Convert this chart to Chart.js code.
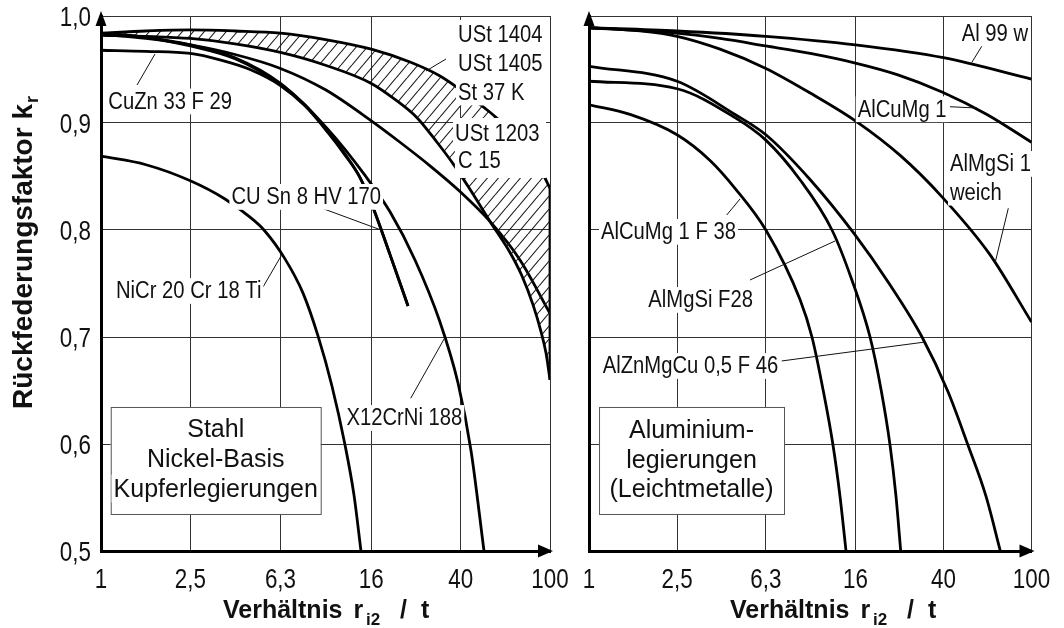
<!DOCTYPE html>
<html>
<head>
<meta charset="utf-8">
<script src="https://cdn.jsdelivr.net/npm/chart.js@4.4.1/dist/chart.umd.min.js"></script>
<style>
  html, body { margin: 0; padding: 0; background: #fff; }
  #wrap { position: relative; width: 1064px; height: 628px; }
  #left { position: absolute; left: 0; top: 0; }
  #right { position: absolute; left: 570px; top: 0; }
</style>
</head>
<body>
<div id="wrap">
  <canvas id="left" width="570" height="628"></canvas>
  <canvas id="right" width="494" height="628"></canvas>
</div>
<script>
// Achsen
const xTicks = [1, 2.5, 6.3, 16, 40, 100];
const yTicks = [0.5, 0.6, 0.7, 0.8, 0.9, 1.0];

// Stahl / Nickel-Basis / Kupferlegierungen
const ust1404X = [1, 1.586, 2.5, 3.954, 6.3, 10, 16, 23.79, 32.36, 41.82, 54.04, 69.84, 81.45, 92.13, 100];
const ust1404Y = [0.984, 0.986, 0.987, 0.986, 0.984, 0.978, 0.969, 0.957, 0.944, 0.928, 0.910, 0.889, 0.873, 0.854, 0.839];
const ust1203X = [1, 1.586, 2.5, 3.954, 6.3, 10, 16, 20.4, 25.56, 31.38, 36.98, 44.94, 54.04, 66.35, 75.04, 84.04, 91.19, 95.99, 100];
const ust1203Y = [0.982, 0.981, 0.979, 0.974, 0.966, 0.954, 0.937, 0.922, 0.905, 0.882, 0.862, 0.835, 0.808, 0.779, 0.757, 0.730, 0.705, 0.685, 0.660];
const stahlX = [1, 1.586, 2.5, 3.954, 6.3, 10, 16, 21.47, 29.21, 39.72, 54.04, 73.51, 100];
const stahlY = [0.983, 0.979, 0.973, 0.964, 0.951, 0.931, 0.902, 0.882, 0.860, 0.836, 0.808, 0.772, 0.722];
const cuZnX = [1, 1.586, 2.5, 3.389, 4.61, 6.3, 8.1, 10.26, 12.22, 14.25, 16.28, 19.38, 23.31];
const cuZnY = [0.968, 0.967, 0.965, 0.959, 0.950, 0.935, 0.916, 0.891, 0.870, 0.849, 0.821, 0.777, 0.729];
const cuSnX = [1, 1.586, 2.5, 3.954, 6.3, 8.1, 10.26, 12.22, 14.25, 16.28, 19.38, 23.31];
const cuSnY = [0.984, 0.980, 0.972, 0.960, 0.936, 0.917, 0.892, 0.871, 0.849, 0.821, 0.777, 0.729];
const x12CrNiX = [1, 1.586, 2.5, 3.954, 6.3, 10.26, 15, 19.38, 25.04, 32.36, 38.93, 44.47, 50.82];
const x12CrNiY = [0.984, 0.980, 0.973, 0.961, 0.937, 0.894, 0.851, 0.817, 0.772, 0.714, 0.657, 0.594, 0.5];
const niCrX = [1, 1.586, 2.5, 3.567, 4.61, 5.32, 6.6, 7.94, 9.26, 10.69, 12.22, 13.4, 14.39];
const niCrY = [0.869, 0.861, 0.846, 0.829, 0.812, 0.800, 0.773, 0.741, 0.701, 0.654, 0.599, 0.552, 0.5];

// Aluminiumlegierungen
const al99wX = [1, 2.5, 6.3, 16, 40, 100];
const al99wY = [0.989, 0.986, 0.981, 0.973, 0.961, 0.941];
const alCuMg1X = [1, 2.5, 3.91, 6.3, 10, 16, 24.9, 39.4, 62.9, 100];
const alCuMg1Y = [0.989, 0.984, 0.979, 0.972, 0.965, 0.956, 0.945, 0.929, 0.908, 0.882];
const alMgSi1X = [1, 1.7, 2.5, 3.91, 6.3, 10, 16, 25.72, 39.4, 64.9, 100];
const alMgSi1Y = [0.989, 0.986, 0.981, 0.969, 0.951, 0.928, 0.902, 0.869, 0.831, 0.777, 0.714];
const alZnMgCuX = [1, 2.5, 4.57, 6.3, 10, 15.73, 22.88, 32.0, 41.9, 51.6, 62.3, 72.3];
const alZnMgCuY = [0.953, 0.939, 0.908, 0.889, 0.847, 0.797, 0.749, 0.700, 0.649, 0.599, 0.551, 0.5];
const alMgSiF28X = [1, 2.5, 4.57, 6.3, 8.99, 12.54, 15.44, 18.63, 20.89, 22.94, 24.41, 25.64];
const alMgSiF28Y = [0.939, 0.932, 0.905, 0.884, 0.847, 0.800, 0.753, 0.700, 0.651, 0.599, 0.551, 0.5];
const alCuMgF38X = [1, 1.532, 2.5, 3.524, 4.57, 6.3, 8.99, 10.18, 11.42, 12.67, 13.63, 14.51];
const alCuMgF38Y = [0.917, 0.908, 0.889, 0.865, 0.839, 0.800, 0.735, 0.700, 0.651, 0.599, 0.551, 0.5];

const SANS = '"Liberation Sans", Arial, sans-serif';

// Schraffur fuer das Stahlband
const hatch = (() => {
  const c = document.createElement("canvas");
  c.width = 11; c.height = 13;
  const g = c.getContext("2d");
  g.strokeStyle = "#1a1a1a";
  g.lineWidth = 1.1;
  g.beginPath();
  [-11, 0, 11].forEach(o => { g.moveTo(o, 13); g.lineTo(o + 11, 0); });
  g.stroke();
  return g.createPattern(c, "repeat");
})();

const pts = (xs, ys) => xs.map((x, i) => ({ x, y: ys[i] }));
const fmtX = v => String(v).replace(".", ",");
const fmtY = v => v.toFixed(1).replace(".", ",");

function curve(label, xs, ys, extra) {
  return Object.assign({
    label,
    data: pts(xs, ys),
    borderColor: "#000",
    borderWidth: 2.8,
    pointRadius: 0,
    cubicInterpolationMode: "monotone",
    fill: false
  }, extra || {});
}

function scalesFor() {
  const grid = { color: "#333", lineWidth: 1, drawTicks: false };
  const border = { color: "#000", width: 3 };
  return {
    x: {
      type: "logarithmic", min: 1, max: 100,
      afterBuildTicks: s => { s.ticks = xTicks.map(v => ({ value: v })); },
      ticks: { display: false, autoSkip: false },
      grid, border
    },
    y: {
      type: "linear", min: 0.5, max: 1,
      afterBuildTicks: s => { s.ticks = yTicks.map(v => ({ value: v })); },
      ticks: { display: false },
      grid, border
    }
  };
}

// Text horizontal gestaucht wie die Schrift im Original
function drawScaled(ctx, text, x, base, size, sx, align, bold) {
  ctx.font = (bold ? "bold " : "") + size + "px " + SANS;
  const w = ctx.measureText(text).width * sx;
  const x0 = align === "center" ? x - w / 2 : align === "right" ? x - w : x;
  ctx.save();
  ctx.translate(x0, base);
  ctx.scale(sx, 1);
  ctx.textAlign = "left";
  ctx.textBaseline = "alphabetic";
  ctx.fillText(text, 0, 0);
  ctx.restore();
  return w;
}

// Beschriftung mit weissem Hintergrund
function drawLabel(ctx, text, x, yc, size, sx, align) {
  ctx.font = size + "px " + SANS;
  const w = ctx.measureText(text).width * sx;
  const x0 = align === "center" ? x - w / 2 : x;
  ctx.fillStyle = "#fff";
  ctx.fillRect(x0 - 2, yc - size * 0.52, w + 4, size * 1.12);
  ctx.fillStyle = "#111";
  drawScaled(ctx, text, x0, yc + size * 0.36, size, sx, "left");
}

const xTitleParts = [
  { t: "Verhältnis", dx: 0 }, { t: "r", dx: 130.5 }, { t: "i2", dx: 143, sub: true },
  { t: "/", dx: 177 }, { t: "t", dx: 198 }
];

function decor(spec) {
  return {
    id: "decor",
    afterDatasetsDraw(chart) {
      const ctx = chart.ctx, xs = chart.scales.x, ys = chart.scales.y;
      const px = v => xs.getPixelForValue(v), py = v => ys.getPixelForValue(v);
      ctx.save();
      (spec.covers || []).forEach(b => {
        ctx.fillStyle = "#fff";
        ctx.fillRect(px(b.x1), py(b.y1), px(b.x2) - px(b.x1), py(b.y2) - py(b.y1));
      });
      ctx.strokeStyle = "#111";
      ctx.lineWidth = 1;
      spec.leaders.forEach(l => {
        ctx.beginPath();
        ctx.moveTo(px(l[0]), py(l[1]));
        ctx.lineTo(px(l[2]), py(l[3]));
        ctx.stroke();
      });
      spec.labels.forEach(t => drawLabel(ctx, t.text, px(t.x), py(t.y), 23, 0.88, "left"));

      const b = spec.box;
      const bx = px(b.x1), by = py(b.y1);
      ctx.fillStyle = "#fff";
      ctx.fillRect(bx, by, px(b.x2) - bx, py(b.y2) - by);
      ctx.strokeStyle = "#555";
      ctx.lineWidth = 1;
      ctx.strokeRect(bx + 0.5, by + 0.5, px(b.x2) - bx, py(b.y2) - by);
      b.lines.forEach(([text, y]) => drawLabel(ctx, text, px(b.cx), py(y), 25, 1, "center"));
      ctx.restore();
    },
    afterDraw(chart) {
      const ctx = chart.ctx, a = chart.chartArea, xs = chart.scales.x, ys = chart.scales.y;
      ctx.save();
      ctx.fillStyle = "#000";
      // Pfeilspitzen an den Achsen
      ctx.beginPath();
      ctx.moveTo(a.left, a.top - 5);
      ctx.lineTo(a.left - 5.5, a.top + 10);
      ctx.lineTo(a.left + 5.5, a.top + 10);
      ctx.closePath();
      ctx.fill();
      ctx.beginPath();
      ctx.moveTo(a.right + 3, a.bottom);
      ctx.lineTo(a.right - 12, a.bottom - 6.5);
      ctx.lineTo(a.right - 12, a.bottom + 6.5);
      ctx.closePath();
      ctx.fill();

      // Teilstriche beschriften
      ctx.fillStyle = "#111";
      xs.ticks.forEach(t => drawScaled(ctx, fmtX(t.value), xs.getPixelForValue(t.value), a.bottom + 36.5, 28, 0.8, "center"));
      if (spec.yTitle) {
        ys.ticks.forEach(t => drawScaled(ctx, fmtY(t.value), a.left - 10, ys.getPixelForValue(t.value) + 10, 28, 0.8, "right"));
      }

      ctx.textAlign = "left";
      ctx.textBaseline = "alphabetic";
      xTitleParts.forEach(p => {
        ctx.font = "bold " + (p.sub ? 17 : 25) + "px " + SANS;
        ctx.fillText(p.t, spec.xTitleLeft + p.dx, 618 + (p.sub ? 7 : 0));
      });

      if (spec.yTitle) {
        ctx.translate(32, 409);
        ctx.rotate(-Math.PI / 2);
        ctx.font = "bold 28px " + SANS;
        const main = "Rückfederungsfaktor k";
        ctx.fillText(main, 0, 0);
        const w = ctx.measureText(main).width;
        ctx.font = "bold 18px " + SANS;
        ctx.fillText("r", w + 1, 6);
      }
      ctx.restore();
    }
  };
}

const leftSpec = {
  covers: [
    { x1: 38.1, x2: 95.0, y1: 0.9963, y2: 0.9178 },
    { x1: 37.7, x2: 96.0, y1: 0.9047, y2: 0.8486 }
  ],
  leaders: [
    [1.447, 0.9355, 1.740, 0.9645],
    [8.80, 0.8234, 17.67, 0.8000],
    [5.268, 0.7467, 6.34, 0.7757],
    [23.96, 0.6427, 33.93, 0.6990],
    [34.42, 0.9598, 28.04, 0.9486]
  ],
  labels: [
    { text: "CuZn 33 F 29", x: 1.078, y: 0.921 },
    { text: "CU Sn 8 HV 170", x: 3.81, y: 0.8318 },
    { text: "NiCr 20 Cr 18 Ti", x: 1.166, y: 0.7439 },
    { text: "X12CrNi 188", x: 12.39, y: 0.6252 },
    { text: "USt 1404", x: 38.93, y: 0.9832 },
    { text: "USt 1405", x: 38.93, y: 0.9565 },
    { text: "St 37 K", x: 38.93, y: 0.9293 },
    { text: "USt 1203", x: 37.75, y: 0.8911 },
    { text: "C 15", x: 38.93, y: 0.8654 }
  ],
  box: { x1: 1.105, x2: 9.52, y1: 0.6346, y2: 0.5346, cx: 3.243,
         lines: [["Stahl", 0.6150], ["Nickel-Basis", 0.5869], ["Kupferlegierungen", 0.5593]] },
  yTitle: true,
  xTitleLeft: 223
};

const rightSpec = {
  leaders: [
    [62.74, 0.9792, 53.66, 0.9564],
    [42.81, 0.9152, 56.72, 0.9140],
    [78.55, 0.8203, 68.39, 0.7689],
    [4.193, 0.8140, 4.814, 0.8290],
    [5.342, 0.7533, 12.94, 0.7897],
    [7.430, 0.6776, 33.02, 0.6953]
  ],
  labels: [
    { text: "Al 99 w", x: 48.36, y: 0.9846 },
    { text: "AlCuMg 1", x: 16.39, y: 0.9137 },
    { text: "AlMgSi 1", x: 42.81, y: 0.8626 },
    { text: "weich", x: 42.81, y: 0.8358 },
    { text: "AlCuMg 1 F 38", x: 1.133, y: 0.7991 },
    { text: "AlMgSi F28", x: 1.854, y: 0.7355 },
    { text: "AlZnMgCu 0,5 F 46", x: 1.153, y: 0.6738 }
  ],
  box: { x1: 1.110, x2: 7.61, y1: 0.6346, y2: 0.5346, cx: 2.906,
         lines: [["Aluminium-", 0.6140], ["legierungen", 0.5864], ["(Leichtmetalle)", 0.5589]] },
  yTitle: false,
  xTitleLeft: 160
};

function baseOptions() {
  return {
    responsive: false,
    animation: false,
    events: [],
    layout: { padding: { left: 0, right: 0, top: 0, bottom: 0 } },
    plugins: { legend: { display: false }, tooltip: { enabled: false } },
    scales: scalesFor()
  };
}

// Zeichenflaeche exakt auf die Lage im Original schieben
function pinArea(chart, t) {
  const p = { left: 0, right: 0, top: 0, bottom: 0 };
  for (let i = 0; i < 4; i++) {
    const a = chart.chartArea;
    p.left += t.left - a.left;
    p.top += t.top - a.top;
    p.right += a.right - t.right;
    p.bottom += a.bottom - t.bottom;
    chart.options.layout.padding = Object.assign({}, p);
    chart.update("none");
  }
}

const leftChart = new Chart(document.getElementById("left"), {
  type: "line",
  data: {
    datasets: [
      curve("USt 1404 / USt 1405 / St 37 K", ust1404X, ust1404Y),
      curve("USt 1203 / C 15", ust1203X, ust1203Y, { fill: "-1", backgroundColor: hatch }),
      curve("Rand", [100, 100], [ust1404Y[ust1404Y.length - 1], ust1203Y[ust1203Y.length - 1]],
            { cubicInterpolationMode: "default", tension: 0 }),
      curve("Stahl", stahlX, stahlY),
      curve("CuZn 33 F 29", cuZnX, cuZnY),
      curve("CU Sn 8 HV 170", cuSnX, cuSnY),
      curve("X12CrNi 188", x12CrNiX, x12CrNiY),
      curve("NiCr 20 Cr 18 Ti", niCrX, niCrY)
    ]
  },
  options: baseOptions(),
  plugins: [decor(leftSpec)]
});

const rightChart = new Chart(document.getElementById("right"), {
  type: "line",
  data: {
    datasets: [
      curve("Al 99 w", al99wX, al99wY),
      curve("AlCuMg 1", alCuMg1X, alCuMg1Y),
      curve("AlMgSi 1 weich", alMgSi1X, alMgSi1Y),
      curve("AlZnMgCu 0,5 F 46", alZnMgCuX, alZnMgCuY),
      curve("AlMgSi F28", alMgSiF28X, alMgSiF28Y),
      curve("AlCuMg 1 F 38", alCuMgF38X, alCuMgF38Y)
    ]
  },
  options: baseOptions(),
  plugins: [decor(rightSpec)]
});

pinArea(leftChart, { left: 101, right: 550, top: 16, bottom: 551 });
pinArea(rightChart, { left: 19, right: 461.5, top: 16, bottom: 551 });
</script>
</body>
</html>
